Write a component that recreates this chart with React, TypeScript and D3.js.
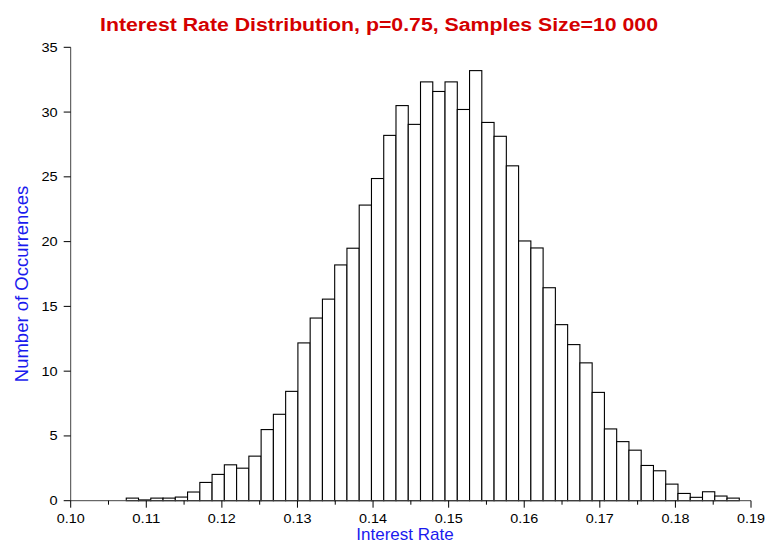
import React from "react";
import * as d3 from "d3";

const TITLE = "Interest Rate Distribution, p=0.75, Samples Size=10 000";
const X_LABEL = "Interest Rate";
const Y_LABEL = "Number of Occurrences";

const binStart = 0.10735;
const binWidth = 0.001622;
const densities = [
  0.2, 0.06, 0.2, 0.2, 0.28, 0.67, 1.41, 2.03, 2.77, 2.51,
  3.44, 5.49, 6.67, 8.44, 12.18, 14.1, 15.56, 18.2, 19.49, 22.82,
  24.87, 28.2, 30.5, 29.05, 32.33, 31.59, 32.33, 30.2, 33.2, 29.2,
  28.13, 25.85, 20.05, 19.51, 16.44, 13.59, 12.05, 10.64, 8.36, 5.54,
  4.56, 3.9, 2.72, 2.31, 1.28, 0.56, 0.26, 0.69, 0.36, 0.2,
];
const xTicks = [0.10, 0.11, 0.12, 0.13, 0.14, 0.15, 0.16, 0.17, 0.18, 0.19];
const xMinorTicks = [0.105, 0.115, 0.125, 0.135, 0.145, 0.155, 0.165, 0.175, 0.185];
const yTicks = [0, 5, 10, 15, 20, 25, 30, 35];

const W = 766;
const H = 543;
const x = d3.scaleLinear().domain([0.10, 0.19]).range([70.7, 751]);
const y = d3.scaleLinear().domain([0, 35]).range([500.7, 47.3]);

const bins = densities.map((v, i) => ({
  x0: binStart + i * binWidth,
  x1: binStart + (i + 1) * binWidth,
  v,
}));

export default function App() {
  const font = "'Liberation Sans', Arial, sans-serif";
  const fmt = d3.format(".2f");
  return (
    <svg
      width={W}
      height={H}
      style={{ position: "absolute", left: 0, top: 0, background: "#fff" }}
      fontFamily={font}
    >
      <rect x={0} y={0} width={W} height={H} fill="#fff" />
      <text
        x={100}
        y={31}
        fontSize={18}
        fontWeight="bold"
        fill="#d40000"
        textLength={558}
        lengthAdjust="spacingAndGlyphs"
      >
        {TITLE}
      </text>
      {bins.map((b, i) => (
        <rect
          key={i}
          x={x(b.x0)}
          y={y(b.v)}
          width={x(b.x1) - x(b.x0)}
          height={y(0) - y(b.v)}
          fill="#fff"
          stroke="#000"
          strokeWidth={1.1}
        />
      ))}
      <line x1={x(0.10)} x2={x(0.10)} y1={y(35)} y2={y(0)} stroke="#444" strokeWidth={1} />
      <line x1={x(0.10)} x2={x(0.19)} y1={y(0)} y2={y(0)} stroke="#444" strokeWidth={1} />
      {yTicks.map((t) => {
        const s = String(t);
        return (
          <g key={t}>
            <line x1={x(0.10) - 7} x2={x(0.10)} y1={y(t)} y2={y(t)} stroke="#000" />
            <text
              x={x(0.10) - 13}
              y={y(t) + 4.5}
              textAnchor="end"
              fontSize={13}
              fill="#000"
              textLength={s.length * 8.1}
              lengthAdjust="spacingAndGlyphs"
            >
              {s}
            </text>
          </g>
        );
      })}
      {xTicks.map((t) => (
        <g key={t}>
          <line x1={x(t)} x2={x(t)} y1={y(0)} y2={y(0) + 7} stroke="#000" />
          <text
            x={x(t)}
            y={523}
            textAnchor="middle"
            fontSize={13}
            fill="#000"
            textLength={28}
            lengthAdjust="spacingAndGlyphs"
          >
            {fmt(t)}
          </text>
        </g>
      ))}
      {xMinorTicks.map((t) => (
        <line key={t} x1={x(t)} x2={x(t)} y1={y(0)} y2={y(0) + 4} stroke="#000" />
      ))}
      <text x={405} y={540} textAnchor="middle" fontSize={17} fill="#1a1aee">
        {X_LABEL}
      </text>
      <text
        transform={`translate(28,284) rotate(-90)`}
        textAnchor="middle"
        fontSize={18.5}
        fill="#1a1aee"
      >
        {Y_LABEL}
      </text>
    </svg>
  );
}
